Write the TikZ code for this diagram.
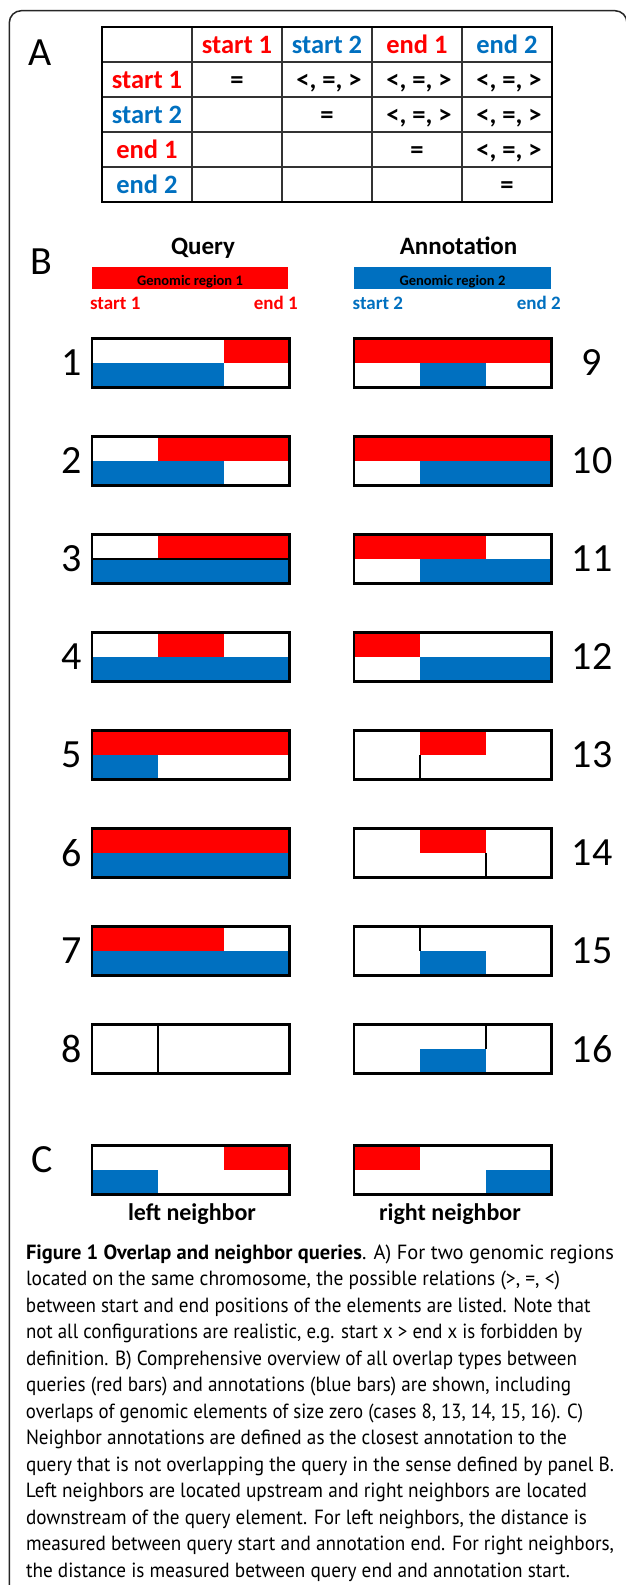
\documentclass[tikz,border=0pt]{standalone}
\usepackage{fontspec}
\usepackage{graphicx}
\setmainfont{Carlito}
\newfontfamily\capfont{PT Sans}
\definecolor{qred}{HTML}{FF0000}
\definecolor{ablue}{HTML}{0070C0}
\def\bw{197.5}
\newcommand\capfs{\capfont\fontsize{20.5}{24}\selectfont}
\newcommand\capln[4]{\node[capline] (#1) at (26,#2) {\resizebox{#3pt}{\height}{\capfs #4}};}
% overlap box: x0, top, red from/to (thirds), blue from/to (thirds)
\newcommand\ovbox[6]{%
  \fill[qred] ({#1+#3*\bw/3},#2) rectangle ({#1+#4*\bw/3},{#2+24.5});
  \fill[ablue] ({#1+#5*\bw/3},{#2+24.5}) rectangle ({#1+#6*\bw/3},{#2+49});
  \draw[boxline] (#1,#2) rectangle ({#1+\bw},{#2+49});
}
\begin{document}
\begin{tikzpicture}[x=1pt,y=-1pt,
  every node/.style={inner sep=0pt, outer sep=0pt},
  panel/.style={font=\fontsize{40}{48}\selectfont, anchor=base west},
  num/.style={font=\fontsize{40}{48}\selectfont, anchor=center},
  tabtxt/.style={font=\fontsize{26.5}{30}\selectfont\bfseries, anchor=base},
  head/.style={font=\fontsize{25}{30}\selectfont\bfseries, anchor=base},
  endlbl/.style={font=\fontsize{19}{22}\selectfont\bfseries},
  gr/.style={font=\fontsize{14.5}{17}\selectfont\bfseries, anchor=base},
  nb/.style={font=\fontsize{24}{28}\selectfont\bfseries, anchor=base},
  boxline/.style={line width=2.6pt, black},
  zeroline/.style={line width=2pt, black},
  capline/.style={anchor=base west},
]
\useasboundingbox (0,0) rectangle (625,1585);
\fill[white] (0,0) rectangle (625,1585);
% frame
\draw[line width=1.5pt, black!85, rounded corners=12pt] (9.3,1700) rectangle (627,10.7);

% ---------- Panel A ----------
\node[panel] (labA) at (28,65) {A};
\draw[line width=1.1pt, black!80]
  (192,27) -- (192,202) (282,27) -- (282,202) (372,27) -- (372,202) (462,27) -- (462,202)
  (102,62) -- (552,62) (102,97) -- (552,97) (102,132) -- (552,132) (102,167) -- (552,167);
\draw[line width=2.8pt] (102,27) rectangle (552,202);
% header row
\node[tabtxt, text=qred]  (h1) at (237,53) {start 1};
\node[tabtxt, text=ablue] (h2) at (327,53) {start 2};
\node[tabtxt, text=qred]  (h3) at (417,53) {end 1};
\node[tabtxt, text=ablue] (h4) at (507,53) {end 2};
% row labels
\node[tabtxt, text=qred]  (r1) at (147,88) {start 1};
\node[tabtxt, text=ablue] (r2) at (147,123) {start 2};
\node[tabtxt, text=qred]  (r3) at (147,158) {end 1};
\node[tabtxt, text=ablue] (r4) at (147,193) {end 2};
% cells
\node[tabtxt] (c11) at (237,88) {=};
\node[tabtxt] (c12) at (329,88) {<, =, >};
\node[tabtxt] (c13) at (419,88) {<, =, >};
\node[tabtxt] (c14) at (509,88) {<, =, >};
\node[tabtxt] (c22) at (327,123) {=};
\node[tabtxt] (c23) at (419,123) {<, =, >};
\node[tabtxt] (c24) at (509,123) {<, =, >};
\node[tabtxt] (c33) at (417,158) {=};
\node[tabtxt] (c34) at (509,158) {<, =, >};
\node[tabtxt] (c44) at (507,193) {=};

% ---------- Panel B ----------
\node[panel] (labB) at (30,274) {B};
\node[head] (query) at (203,254.5) {Query};
\node[head] (annot) at (458.5,254.5) {Annotation};
\fill[qred] (92,267) rectangle (288,289);
\fill[ablue] (354,267) rectangle (551,289);
\node[gr] (gr1) at (190,285.5) {Genomic region 1};
\node[gr] (gr2) at (452.5,285.5) {Genomic region 2};
\node[endlbl, text=qred, anchor=base west] (s1) at (90,309.3) {start 1};
\node[endlbl, text=qred, anchor=base east] (e1) at (297.7,309.3) {end 1};
\node[endlbl, text=ablue, anchor=base west] (s2) at (352.7,309.3) {start 2};
\node[endlbl, text=ablue, anchor=base east] (e2) at (560.7,309.3) {end 2};

% left column (query cases 1-8)
\ovbox{92}{338.5}{2}{3}{0}{2}
\ovbox{92}{436.5}{1}{3}{0}{2}
\ovbox{92}{534.5}{1}{3}{0}{3}
\draw[boxline] (92,559) -- ({92+\bw},559);
\ovbox{92}{632.5}{1}{2}{0}{3}
\ovbox{92}{730.5}{0}{3}{0}{1}
\ovbox{92}{828.5}{0}{3}{0}{3}
\ovbox{92}{926.5}{0}{2}{0}{3}
\ovbox{92}{1024.5}{0}{0}{0}{0}
\draw[zeroline] ({92+\bw/3},1024.5) -- ({92+\bw/3},1073.5);
% right column (cases 9-16)
\ovbox{354}{338.5}{0}{3}{1}{2}
\ovbox{354}{436.5}{0}{3}{1}{3}
\ovbox{354}{534.5}{0}{2}{1}{3}
\ovbox{354}{632.5}{0}{1}{1}{3}
\ovbox{354}{730.5}{1}{2}{0}{0}
\draw[zeroline] ({354+\bw/3},755) -- ({354+\bw/3},779.5);
\ovbox{354}{828.5}{1}{2}{0}{0}
\draw[zeroline] ({354+2*\bw/3},853) -- ({354+2*\bw/3},877.5);
\ovbox{354}{926.5}{0}{0}{1}{2}
\draw[zeroline] ({354+\bw/3},926.5) -- ({354+\bw/3},951);
\ovbox{354}{1024.5}{0}{0}{1}{2}
\draw[zeroline] ({354+2*\bw/3},1024.5) -- ({354+2*\bw/3},1049);

% numbers
\node[num] (n1) at (72,363) {1};
\node[num] (n2) at (72,461) {2};
\node[num] (n3) at (72,559) {3};
\node[num] (n4) at (72,657) {4};
\node[num] (n5) at (72,755) {5};
\node[num] (n6) at (72,853) {6};
\node[num] (n7) at (72,951) {7};
\node[num] (n8) at (72,1049) {8};
\node[num] (n9) at (592,363) {9};
\node[num] (n10) at (592,461) {10};
\node[num] (n11) at (592,559) {11};
\node[num] (n12) at (592,657) {12};
\node[num] (n13) at (592,755) {13};
\node[num] (n14) at (592,853) {14};
\node[num] (n15) at (592,951) {15};
\node[num] (n16) at (592,1049) {16};

% ---------- Panel C ----------
\node[panel] (labC) at (31,1172.5) {C};
\fill[ablue] (92,1170) rectangle ({92+\bw/3},1194.5);
\fill[qred] ({92+2*\bw/3},1145.5) rectangle ({92+\bw},1170);
\draw[boxline] (92,1145.5) rectangle ({92+\bw},1194.5);
\fill[qred] (354,1145.5) rectangle ({354+\bw/3},1170);
\fill[ablue] ({354+2*\bw/3},1170) rectangle ({354+\bw},1194.5);
\draw[boxline] (354,1145.5) rectangle ({354+\bw},1194.5);
\node[nb] (ln) at (192,1220) {left neighbor};
\node[nb] (rn) at (450,1220) {right neighbor};

% ---------- Caption ----------
\capln{cap1}{1259}{588}{{\bfseries Figure 1 Overlap and neighbor queries}. A) For two genomic regions}
\capln{cap2}{1285.5}{534}{located on the same chromosome, the possible relations (>, =, <)}
\capln{cap3}{1312}{564.5}{between start and end positions of the elements are listed. Note that}
\capln{cap4}{1338.5}{556}{not all configurations are realistic, e.g. start x > end x is forbidden by}
\capln{cap5}{1365}{551}{definition. B) Comprehensive overview of all overlap types between}
\capln{cap6}{1391.5}{545}{queries (red bars) and annotations (blue bars) are shown, including}
\capln{cap7}{1418}{557}{overlaps of genomic elements of size zero (cases 8, 13, 14, 15, 16). C)}
\capln{cap8}{1444.5}{541}{Neighbor annotations are defined as the closest annotation to the}
\capln{cap9}{1471}{588}{query that is not overlapping the query in the sense defined by panel B.}
\capln{cap10}{1497.5}{561}{Left neighbors are located upstream and right neighbors are located}
\capln{cap11}{1524}{561}{downstream of the query element. For left neighbors, the distance is}
\capln{cap12}{1550.5}{588}{measured between query start and annotation end. For right neighbors,}
\capln{cap13}{1577}{544}{the distance is measured between query end and annotation start.}
\end{tikzpicture}
\end{document}
